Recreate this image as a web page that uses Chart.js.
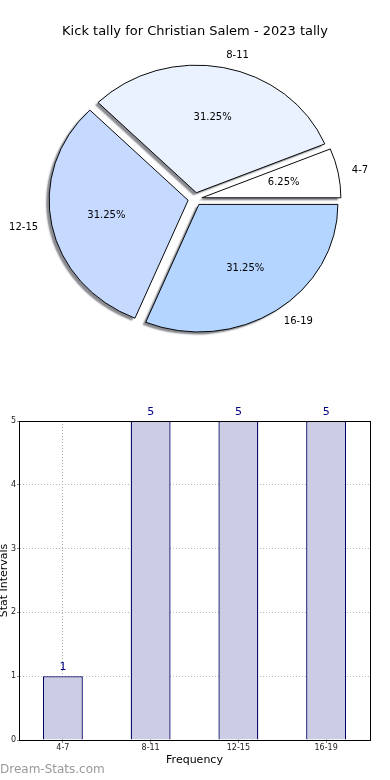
<!DOCTYPE html>
<html>
<head>
<meta charset="utf-8">
<script src="https://cdn.jsdelivr.net/npm/chart.js@4.4.0/dist/chart.umd.min.js"></script>
<style>
  body { margin: 0; background: #fff; }
  .box { position: absolute; left: 0; width: 390px; height: 390px; }
  #pieBox { top: 0; }
  #barBox { top: 390px; }
</style>
</head>
<body>
<div id="pieBox" class="box"><canvas id="pie"></canvas></div>
<div id="barBox" class="box"><canvas id="bar"></canvas></div>
<script>
const chartTitle = 'Kick tally for Christian Salem - 2023 tally';
const intervals = ['4-7', '8-11', '12-15', '16-19'];
const kicks = [1, 5, 5, 5];
const sliceColors = ['#ffffff', '#ebf2ff', '#c6d9ff', '#b3d5ff'];
const yTicks = [0, 1, 2, 3, 4, 5];

const FONT = '"DejaVu Sans", sans-serif';
const squash = 0.918;   // pie is drawn a bit flatter than round
const explode = 7;

// matplotlib goes counter-clockwise from 3 o'clock, Chart.js clockwise -> reverse
const pieLabels = intervals.slice().reverse();
const pieValues = kicks.slice().reverse();
const pieColors = sliceColors.slice().reverse();
const total = kicks.reduce((s, v) => s + v, 0);

const pieExtras = {
    id: 'pieExtras',
    afterDatasetsUpdate(chart) {
        // push every slice out along its middle angle
        chart.getDatasetMeta(0).data.forEach(arc => {
            const mid = (arc.startAngle + arc.endAngle) / 2;
            arc.x += Math.cos(mid) * explode;
            arc.y += Math.sin(mid) * explode;
        });
    },
    beforeDatasetsDraw(chart) {
        const { ctx, chartArea: a } = chart;
        const cx = (a.left + a.right) / 2, cy = (a.top + a.bottom) / 2;
        ctx.save();
        ctx.translate(cx, cy);
        ctx.scale(1, squash);
        ctx.translate(-cx, -cy);
        ctx.shadowColor = 'rgba(40, 44, 55, 0.55)';
        ctx.shadowOffsetX = -3;
        ctx.shadowOffsetY = 2.5;
        ctx.shadowBlur = 1.5;
        // shadow only for the fill, not the outline
        const stroke = CanvasRenderingContext2D.prototype.stroke;
        ctx.stroke = function (...args) {
            const sc = this.shadowColor;
            this.shadowColor = 'rgba(0,0,0,0)';
            stroke.apply(this, args);
            this.shadowColor = sc;
        };
    },
    afterDatasetsDraw(chart) {
        const { ctx, chartArea: a } = chart;
        delete ctx.stroke;
        ctx.restore();
        const cx = (a.left + a.right) / 2, cy = (a.top + a.bottom) / 2;
        ctx.save();
        ctx.fillStyle = '#000';
        ctx.textBaseline = 'middle';
        ctx.font = '10px ' + FONT;
        chart.getDatasetMeta(0).data.forEach((arc, i) => {
            const mid = (arc.startAngle + arc.endAngle) / 2;
            const c = Math.cos(mid), s = Math.sin(mid);
            const r = arc.outerRadius;
            const lr = explode + 1.1 * r, pr = explode + 0.6 * r;
            ctx.textAlign = c > 0 ? 'left' : 'right';
            ctx.fillText(pieLabels[i], cx + lr * c, cy + squash * lr * s);
            ctx.textAlign = 'center';
            ctx.fillText((pieValues[i] / total * 100).toFixed(2) + '%', cx + pr * c, cy + squash * pr * s);
        });
        ctx.restore();
    }
};

new Chart(document.getElementById('pie'), {
    type: 'pie',
    data: {
        labels: pieLabels,
        datasets: [{
            data: pieValues,
            backgroundColor: pieColors,
            borderColor: '#000',
            borderWidth: 1,
            radius: 139
        }]
    },
    options: {
        animation: false,
        responsive: true,
        maintainAspectRatio: false,
        rotation: 90,
        layout: { padding: { bottom: 39 } },
        plugins: {
            legend: { display: false },
            tooltip: { enabled: false },
            title: {
                display: true,
                text: chartTitle,
                color: '#000',
                font: { family: FONT, size: 13, weight: 'normal', lineHeight: 1.2 },
                padding: { top: 23.5, bottom: 8 }
            }
        }
    },
    plugins: [pieExtras]
});

const barExtras = {
    id: 'barExtras',
    afterDraw(chart) {
        const { ctx, chartArea: a } = chart;
        ctx.save();
        ctx.strokeStyle = '#000';
        ctx.lineWidth = 1;
        ctx.strokeRect(Math.round(a.left) + 0.5, Math.round(a.top) + 0.5,
            Math.round(a.right - a.left), Math.round(a.bottom - a.top));
        ctx.fillStyle = '#000080';
        ctx.font = '11px ' + FONT;
        ctx.textAlign = 'center';
        ctx.textBaseline = 'middle';
        chart.getDatasetMeta(0).data.forEach((bar, i) => {
            ctx.fillText(String(kicks[i]), bar.x, bar.y - 9);
        });
        ctx.fillStyle = '#999';
        ctx.font = '12px ' + FONT;
        ctx.textAlign = 'left';
        ctx.fillText('Dream-Stats.com', 0, 380);
        ctx.restore();
    }
};

new Chart(document.getElementById('bar'), {
    type: 'bar',
    data: {
        labels: intervals,
        datasets: [{
            data: kicks,
            backgroundColor: '#ccccE5',
            borderColor: '#000066',
            borderWidth: 1.3,
            categoryPercentage: 1,
            barPercentage: 0.455
        }]
    },
    options: {
        animation: false,
        responsive: true,
        maintainAspectRatio: false,
        layout: { padding: { top: 31, right: 20, left: 0, bottom: 0 } },
        plugins: {
            legend: { display: false },
            tooltip: { enabled: false }
        },
        scales: {
            x: {
                z: 1,
                afterFit: scale => { scale.height = 40; },
                grid: {
                    offset: false,
                    color: '#a8a8a8',
                    tickLength: 3,
                    tickColor: '#888'
                },
                border: { display: true, color: '#000', dash: [1, 2] },
                ticks: {
                    color: '#222',
                    padding: 0,
                    maxRotation: 0,
                    font: { family: FONT, size: 8 }
                },
                title: {
                    display: true,
                    text: 'Frequency',
                    color: '#000',
                    font: { family: FONT, size: 11 },
                    padding: { top: 0, bottom: 13.4 }
                }
            },
            y: {
                min: 0,
                max: 5,
                afterFit: scale => { scale.width = 19; },
                afterBuildTicks: scale => { scale.ticks = yTicks.map(v => ({ value: v })); },
                grid: {
                    color: '#b8b8b8',
                    tickLength: 2,
                    tickColor: '#888'
                },
                border: { display: true, color: '#000', dash: [1, 2] },
                ticks: {
                    color: '#222',
                    padding: 1,
                    font: { family: FONT, size: 8 }
                },
                title: {
                    display: true,
                    text: 'Stat Intervals',
                    color: '#000',
                    font: { family: FONT, size: 11 },
                    padding: { top: -2.6, bottom: 0 }
                }
            }
        }
    },
    plugins: [barExtras]
});
</script>
</body>
</html>
